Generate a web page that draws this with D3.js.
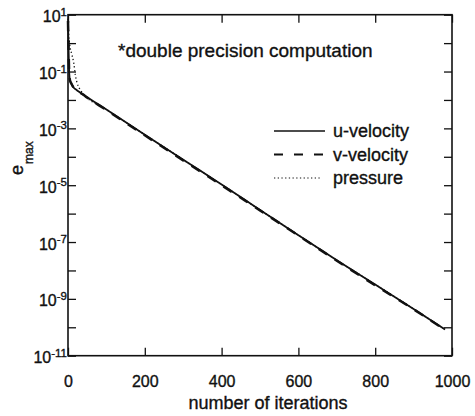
<!DOCTYPE html>
<html>
<head>
<meta charset="utf-8">
<script src="https://cdn.jsdelivr.net/npm/d3@7"></script>
<style>
  html, body { margin: 0; padding: 0; background: #fff; }
  svg { display: block; }
  text { font-family: "Liberation Sans", Arial, Helvetica, sans-serif; fill: #111; stroke: #111; stroke-width: 0.35px; }
</style>
</head>
<body>
<svg id="chart" width="475" height="416"></svg>
<script>
// ---------- data ----------
const uIter = [0, 1, 2, 3, 5, 9, 15, 23, 35, 45, 100, 200, 300, 400, 500, 600, 700, 800, 900, 982];
const uVel  = [6.3, 1.26, 0.316, 0.1, 0.05, 0.037, 0.027, 0.022, 0.017, 0.0138, 4.6e-3, 6.0e-4, 7.9e-5, 1.05e-5, 1.35e-6, 1.74e-7, 2.3e-8, 3.2e-9, 4.4e-10, 8.3e-11];

const vIter = [0, 1, 2, 3, 5, 9, 15, 23, 35, 45, 100, 200, 300, 400, 500, 600, 700, 800, 900, 982];
const vVel  = [6.0, 1.2, 0.3, 0.098, 0.05, 0.037, 0.027, 0.022, 0.017, 0.0136, 4.4e-3, 5.7e-4, 7.5e-5, 1.0e-5, 1.3e-6, 1.7e-7, 2.2e-8, 3.0e-9, 4.3e-10, 8.1e-11];

const pIter = [0, 2, 4, 10, 15, 19, 23, 30, 36, 45, 100, 200, 300, 400, 500, 600, 700, 800, 900, 982];
const pres  = [7.2, 2.0, 1.0, 0.4, 0.2, 0.076, 0.043, 0.025, 0.019, 0.0138, 4.6e-3, 6.0e-4, 7.9e-5, 1.05e-5, 1.35e-6, 1.74e-7, 2.3e-8, 3.2e-9, 4.4e-10, 8.3e-11];

const xTicks = [0, 200, 400, 600, 800, 1000];
const yTicks = [1e1, 1e0, 1e-1, 1e-2, 1e-3, 1e-4, 1e-5, 1e-6, 1e-7, 1e-8, 1e-9, 1e-10, 1e-11];
const yLabelExps = [1, -1, -3, -5, -7, -9, -11];

const legendNames = ["u-velocity", "v-velocity", "pressure"];
const annotation = "*double precision computation";
const xTitle = "number of iterations";

// ---------- layout ----------
const svg = d3.select("#chart");
const L = 68, R = 452, T = 14.7, B = 355.7;

const x = d3.scaleLinear().domain([0, 1000]).range([L, R]);
const y = d3.scaleLog().domain([1e-11, 1e1]).range([B, T]);

// axes (inward ticks, all four sides)
svg.append("g").attr("transform", `translate(0,${B})`)
  .call(d3.axisBottom(x).tickValues(xTicks).tickSizeInner(-8).tickSizeOuter(0).tickPadding(20).tickFormat(d3.format("d")))
  .call(g => g.select(".domain").remove())
  .call(g => g.selectAll("line").attr("stroke", "#111").attr("stroke-width", 1.3))
  .call(g => g.selectAll("text").attr("font-size", 16).attr("font-family", null).attr("fill", "#111"));

svg.append("g").attr("transform", `translate(0,${T})`)
  .call(d3.axisTop(x).tickValues(xTicks).tickSizeInner(-8).tickSizeOuter(0).tickFormat(""))
  .call(g => g.select(".domain").remove())
  .call(g => g.selectAll("line").attr("stroke", "#111").attr("stroke-width", 1.3));

svg.append("g").attr("transform", `translate(${L},0)`)
  .call(d3.axisLeft(y).tickValues(yTicks).tickSizeInner(-8).tickSizeOuter(0).tickFormat(""))
  .call(g => g.select(".domain").remove())
  .call(g => g.selectAll("line").attr("stroke", "#111").attr("stroke-width", 1.3));

svg.append("g").attr("transform", `translate(${R},0)`)
  .call(d3.axisRight(y).tickValues(yTicks).tickSizeInner(-8).tickSizeOuter(0).tickFormat(""))
  .call(g => g.select(".domain").remove())
  .call(g => g.selectAll("line").attr("stroke", "#111").attr("stroke-width", 1.3));

// frame
svg.append("rect").attr("x", L).attr("y", T).attr("width", R - L).attr("height", B - T)
  .attr("fill", "none").attr("stroke", "#111").attr("stroke-width", 1.6);

// y tick labels: 10 with superscript exponent
const yl = svg.append("g").selectAll("text").data(yLabelExps).join("text")
  .attr("x", L - 1).attr("y", d => y(Math.pow(10, d)) + 7.5)
  .attr("text-anchor", "end");
yl.append("tspan").attr("font-size", 16).text("10");
yl.append("tspan").attr("font-size", 11.5).attr("dy", -6.5).text(d => d < 0 ? "-" + (-d) : String(d));

// lines
const mk = (xs, ys) => xs.map((d, i) => [d, ys[i]]);
const line = d3.line().x(d => x(d[0])).y(d => y(d[1])).curve(d3.curveMonotoneX);

svg.append("path").datum(mk(uIter, uVel)).attr("d", line)
  .attr("fill", "none").attr("stroke", "#111").attr("stroke-width", 1.8);
svg.append("path").datum(mk(vIter, vVel)).attr("d", line)
  .attr("fill", "none").attr("stroke", "#111").attr("stroke-width", 2.5).attr("stroke-dasharray", "10,9");
svg.append("path").datum(mk(pIter, pres)).attr("d", line)
  .attr("fill", "none").attr("stroke", "#111").attr("stroke-width", 1.3).attr("stroke-dasharray", "1.3,2.4");

// legend
const dashes = [null, "9,11", "1.3,2.4"];
const widths = [1.6, 1.8, 1.2];
const lg = svg.append("g").selectAll("g").data(legendNames).join("g")
  .attr("transform", (d, i) => `translate(0,${131 + i * 23.5})`);
lg.append("line").attr("x1", 274).attr("x2", (d, i) => i === 2 ? 322 : 325).attr("y1", 0).attr("y2", 0)
  .attr("stroke", "#111").attr("stroke-width", (d, i) => widths[i])
  .attr("stroke-dasharray", (d, i) => dashes[i]);
lg.append("text").attr("x", 333).attr("y", 6).attr("font-size", 18).text(d => d);

// annotation
svg.append("text").attr("x", 118).attr("y", 57).attr("font-size", 19).text(annotation);

// axis titles
svg.append("text").attr("x", 268).attr("y", 409).attr("text-anchor", "middle")
  .attr("font-size", 18).text(xTitle);

const yt = svg.append("text").attr("transform", "translate(23,175) rotate(-90)");
yt.append("tspan").attr("font-size", 18).text("e");
yt.append("tspan").attr("font-size", 12).attr("dy", 9.5).attr("dx", 1).text("max");
</script>
</body>
</html>
